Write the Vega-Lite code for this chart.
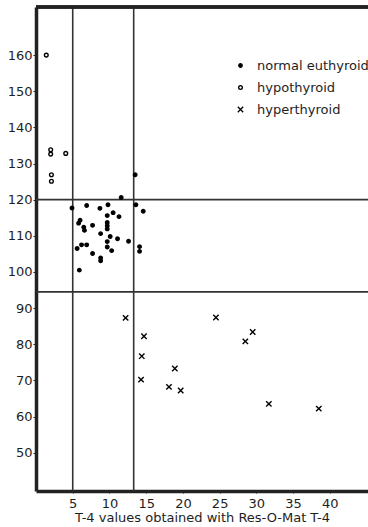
{
  "$schema": "https://vega.github.io/schema/vega-lite/v6.json",
  "width": 332,
  "height": 484,
  "autosize": "none",
  "padding": {"left": 36, "top": 7, "right": 0, "bottom": 36},
  "background": "white",
  "config": {
    "view": {"stroke": null},
    "font": "DejaVu Sans",
    "axis": {"grid": false, "domainColor": "#222222", "domainWidth": 3.5, "tickColor": "#222222", "labelColor": "#1e1e1e", "labelFont": "DejaVu Sans", "titleFont": "DejaVu Sans"}
  },
  "datasets": {
    "points": [
      {"t4": 1.4, "value": 160.0, "group": "hypothyroid"},
      {"t4": 2.0, "value": 133.8, "group": "hypothyroid"},
      {"t4": 2.0, "value": 132.6, "group": "hypothyroid"},
      {"t4": 2.1, "value": 126.9, "group": "hypothyroid"},
      {"t4": 2.1, "value": 125.1, "group": "hypothyroid"},
      {"t4": 4.05, "value": 132.8, "group": "hypothyroid"},
      {"t4": 4.9, "value": 117.7, "group": "normal euthyroid"},
      {"t4": 6.9, "value": 118.4, "group": "normal euthyroid"},
      {"t4": 8.7, "value": 117.6, "group": "normal euthyroid"},
      {"t4": 9.8, "value": 118.6, "group": "normal euthyroid"},
      {"t4": 11.6, "value": 120.6, "group": "normal euthyroid"},
      {"t4": 13.6, "value": 118.6, "group": "normal euthyroid"},
      {"t4": 14.6, "value": 116.8, "group": "normal euthyroid"},
      {"t4": 10.5, "value": 116.4, "group": "normal euthyroid"},
      {"t4": 11.3, "value": 115.3, "group": "normal euthyroid"},
      {"t4": 9.7, "value": 115.6, "group": "normal euthyroid"},
      {"t4": 6.0, "value": 114.3, "group": "normal euthyroid"},
      {"t4": 5.8, "value": 113.5, "group": "normal euthyroid"},
      {"t4": 6.5, "value": 112.4, "group": "normal euthyroid"},
      {"t4": 6.6, "value": 111.5, "group": "normal euthyroid"},
      {"t4": 7.7, "value": 112.9, "group": "normal euthyroid"},
      {"t4": 9.7, "value": 113.7, "group": "normal euthyroid"},
      {"t4": 9.7, "value": 112.8, "group": "normal euthyroid"},
      {"t4": 9.7, "value": 111.9, "group": "normal euthyroid"},
      {"t4": 8.8, "value": 110.6, "group": "normal euthyroid"},
      {"t4": 10.1, "value": 109.8, "group": "normal euthyroid"},
      {"t4": 11.1, "value": 109.2, "group": "normal euthyroid"},
      {"t4": 9.7, "value": 108.4, "group": "normal euthyroid"},
      {"t4": 12.6, "value": 108.5, "group": "normal euthyroid"},
      {"t4": 6.2, "value": 107.5, "group": "normal euthyroid"},
      {"t4": 6.9, "value": 107.5, "group": "normal euthyroid"},
      {"t4": 5.6, "value": 106.5, "group": "normal euthyroid"},
      {"t4": 9.7, "value": 106.9, "group": "normal euthyroid"},
      {"t4": 10.3, "value": 105.9, "group": "normal euthyroid"},
      {"t4": 7.7, "value": 105.1, "group": "normal euthyroid"},
      {"t4": 8.8, "value": 103.9, "group": "normal euthyroid"},
      {"t4": 8.8, "value": 103.1, "group": "normal euthyroid"},
      {"t4": 5.9, "value": 100.5, "group": "normal euthyroid"},
      {"t4": 14.1, "value": 107.0, "group": "normal euthyroid"},
      {"t4": 14.1, "value": 105.7, "group": "normal euthyroid"},
      {"t4": 13.5, "value": 126.9, "group": "normal euthyroid"},
      {"t4": 12.2, "value": 87.3, "group": "hyperthyroid"},
      {"t4": 14.7, "value": 82.2, "group": "hyperthyroid"},
      {"t4": 14.4, "value": 76.7, "group": "hyperthyroid"},
      {"t4": 14.3, "value": 70.2, "group": "hyperthyroid"},
      {"t4": 18.9, "value": 73.3, "group": "hyperthyroid"},
      {"t4": 18.1, "value": 68.2, "group": "hyperthyroid"},
      {"t4": 19.7, "value": 67.2, "group": "hyperthyroid"},
      {"t4": 24.5, "value": 87.4, "group": "hyperthyroid"},
      {"t4": 28.5, "value": 80.8, "group": "hyperthyroid"},
      {"t4": 29.5, "value": 83.4, "group": "hyperthyroid"},
      {"t4": 31.7, "value": 63.5, "group": "hyperthyroid"},
      {"t4": 38.5, "value": 62.2, "group": "hyperthyroid"}
    ],
    "vlines": [{"t4": 5.0}, {"t4": 13.3}],
    "hlines": [{"value": 120.0}, {"value": 94.5}]
  },
  "layer": [
    {
      "data": {"name": "vlines"},
      "mark": {"type": "rule", "color": "#333333", "strokeWidth": 1.6},
      "encoding": {
        "x": {"field": "t4", "type": "quantitative", "scale": {"domain": [0, 45.2], "nice": false, "zero": false},
          "axis": {"values": [5, 10, 15, 20, 25, 30, 35, 40], "tickSize": 2, "tickWidth": 1, "labelPadding": 4, "labelFontSize": 13, "title": "T-4 values obtained with Res-O-Mat T-4", "titleFontSize": 13, "titleFontWeight": "normal", "titleColor": "#1e1e1e", "titlePadding": 1}}
      }
    },
    {
      "data": {"name": "hlines"},
      "mark": {"type": "rule", "color": "#333333", "strokeWidth": 1.6},
      "encoding": {
        "y": {"field": "value", "type": "quantitative", "scale": {"domain": [39.4, 173.3], "nice": false, "zero": false},
          "axis": {"values": [50, 60, 70, 80, 90, 100, 110, 120, 130, 140, 150, 160], "tickSize": 3, "tickWidth": 1, "labelPadding": 1, "labelFontSize": 13, "title": null}}
      }
    },
    {
      "data": {"name": "hlines"},
      "mark": {"type": "rule", "color": "#222222", "strokeWidth": 3.5},
      "encoding": {"y": {"datum": 173.3, "type": "quantitative"}}
    },
    {
      "data": {"name": "points"},
      "mark": {"type": "point", "filled": true, "stroke": "black", "strokeWidth": 1.4, "opacity": 1},
      "encoding": {
        "x": {"field": "t4", "type": "quantitative"},
        "y": {"field": "value", "type": "quantitative"},
        "shape": {"field": "group", "type": "nominal", "title": null,
          "scale": {"domain": ["normal euthyroid", "hypothyroid", "hyperthyroid"], "range": ["circle", "circle", "M-1.35,-1.35L1.35,1.35M1.35,-1.35L-1.35,1.35"]},
          "legend": {"orient": "none", "legendX": 198, "legendY": 52, "labelFontSize": 13, "labelColor": "#1e1e1e", "labelOffset": 10, "rowPadding": 8, "symbolStrokeColor": "black", "symbolStrokeWidth": 1.3}},
        "fill": {"field": "group", "type": "nominal", "title": null,
          "scale": {"domain": ["normal euthyroid", "hypothyroid", "hyperthyroid"], "range": ["black", "white", "black"]}},
        "size": {"field": "group", "type": "nominal", "title": null,
          "scale": {"domain": ["normal euthyroid", "hypothyroid", "hyperthyroid"], "range": [12, 16, 40]}}
      }
    }
  ]
}
